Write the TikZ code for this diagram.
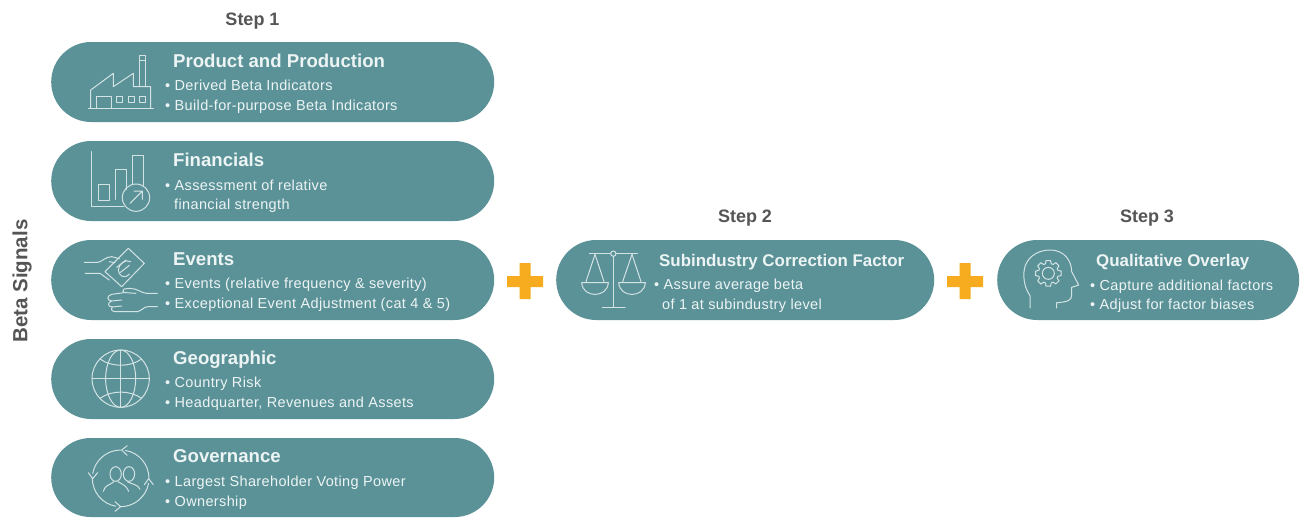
\documentclass[tikz,border=0pt]{standalone}
\usepackage{fontspec}
\setmainfont{Liberation Sans}
\newfontfamily\bulfont[LetterSpace=2.5]{Liberation Sans}
\usetikzlibrary{shapes.misc}
\definecolor{teal}{HTML}{5B9298}
\definecolor{ink}{HTML}{EDF4F4}
\definecolor{stepgray}{HTML}{555555}
\definecolor{plusc}{HTML}{F6AC1E}
\definecolor{iconc}{HTML}{D3E3E4}
\tikzset{
  pill/.style={rounded rectangle,fill=teal,draw=none,inner sep=0pt,minimum height=80pt,anchor=west,rounded rectangle arc length=180},
  head/.style={anchor=base west,inner sep=0pt,text=ink,font=\fontsize{18.6}{20}\selectfont\bfseries},
  headb/.style={anchor=base west,inner sep=0pt,text=ink,font=\fontsize{16.9}{20}\selectfont\bfseries},
  bul/.style={anchor=base west,inner sep=0pt,text=ink,font=\fontsize{14.5}{16}\bulfont},
  steplabel/.style={anchor=base,inner sep=0pt,text=stepgray,font=\fontsize{18}{20}\selectfont\bfseries},
  icon/.style={draw=iconc,line width=1pt,line join=round,line cap=round},
  zoomed/.style={shift={#1},scale=1/3}
}
\begin{document}
\begin{tikzpicture}[x=1pt,y=-1pt]
\useasboundingbox (0,0) rectangle (1301,517);
\fill[white] (0,0) rectangle (1301,517);
% pills
\node[pill,minimum width=443pt] (p1) at (51,82) {};
\node[pill,minimum width=443pt] (p2) at (51,181) {};
\node[pill,minimum width=443pt] (p3) at (51,280) {};
\node[pill,minimum width=443pt] (p4) at (51,379) {};
\node[pill,minimum width=443pt,minimum height=79pt] (p5) at (51,477.5) {};
\node[pill,minimum width=378pt] (s2) at (556,280) {};
\node[pill,minimum width=302pt] (s3) at (997,280) {};
% labels
\node[steplabel] (l1) at (252.5,25) {Step 1};
\node[steplabel] (l2) at (745,222) {Step 2};
\node[steplabel] (l3) at (1147,222) {Step 3};
\node[anchor=center,rotate=90,inner sep=0pt,text=stepgray,font=\fontsize{20.5}{22}\selectfont\bfseries] (bs) at (22,281) {Beta Signals};
% text
\node[head] (t1) at (173,67) {Product and Production};
\node[bul] (t1a) at (165,90) {• Derived Beta Indicators};
\node[bul] (t1b) at (165,110) {• Build-for-purpose Beta Indicators};
\node[head] (t2) at (173,166) {Financials};
\node[bul] (t2a) at (165,190) {• Assessment of relative};
\node[bul] (t2b) at (174,209) {financial strength};
\node[head] (t3) at (173,265) {Events};
\node[bul] (t3a) at (165,288) {• Events (relative frequency \& severity)};
\node[bul] (t3b) at (165,308) {• Exceptional Event Adjustment (cat 4 \& 5)};
\node[head] (t4) at (173,364) {Geographic};
\node[bul] (t4a) at (165,387) {• Country Risk};
\node[bul] (t4b) at (165,407) {• Headquarter, Revenues and Assets};
\node[head] (t5) at (173,462) {Governance};
\node[bul] (t5a) at (165,486) {• Largest Shareholder Voting Power};
\node[bul] (t5b) at (165,506) {• Ownership};
\node[headb] (t6) at (659,266) {Subindustry Correction Factor};
\node[bul] (t6a) at (654,289) {• Assure average beta};
\node[bul] (t6b) at (662,309) {of 1 at subindustry level};
\node[headb] (t7) at (1096,266) {Qualitative Overlay};
\node[bul] (t7a) at (1090,290) {• Capture additional factors};
\node[bul] (t7b) at (1090,309) {• Adjust for factor biases};
% plus signs
\fill[plusc] (507,276) rectangle (543,287) (519.5,263) rectangle (530.5,299);
\fill[plusc] (947,276) rectangle (983,287) (959.5,263) rectangle (970.5,299);
% factory
\begin{scope}[zoomed={(50,30)}]
\draw[icon] (115,235)--(310,235);
\draw[icon] (122,235)--(122,180)--(190,130)--(190,170)--(250,130)--(250,170)--(302,170)--(302,235);
\draw[icon] (268,170)--(268,75)--(287,75)--(287,170) (268,92)--(287,92);
\draw[icon] (140,235)--(140,200)--(183,200)--(183,235);
\draw[icon] (200,200) rectangle (218,216) (234,200) rectangle (252,216) (268,200) rectangle (286,216);
% chart
\draw[icon] (125,365)--(125,530)--(222,530);
\draw[icon] (146,462) rectangle (178,510);
\draw[icon] (197,508)--(197,418)--(228,418)--(228,478);
\draw[icon] (248,462)--(248,375)--(280,375)--(280,466);
\draw[icon] (258,503) circle[radius=41];
\draw[icon] (240,520)--(277,483) (252,483)--(277,483)--(277,508);
\end{scope}
% hands and banknote
\begin{scope}[zoomed={(50,230)}]
\draw[icon] (235,55)--(283,100)--(215,170)--(165,125)--cycle;
\draw[icon] (242,95) .. controls (225,85) and (205,105) .. (205,120) .. controls (205,135) and (222,150) .. (238,132);
\draw[icon] (200,112)--(228,90) (210,128)--(238,106);
\draw[icon] (103,97)--(143,97) .. controls (155,97) and (165,80) .. (185,80)--(208,86);
\draw[icon] (178,95)--(195,98);
\draw[icon] (105,130)--(150,130)--(178,150);
\draw[icon] (322,190)--(290,190) .. controls (275,190) and (262,175) .. (240,175)--(222,177) .. controls (215,180) and (218,188) .. (228,188)--(258,190);
\draw[icon] (222,188)--(185,193) .. controls (170,197) and (170,212) .. (185,213)--(215,210);
\draw[icon] (185,213) .. controls (172,218) and (172,230) .. (187,231)--(215,228);
\draw[icon] (187,231) .. controls (180,240) and (188,245) .. (198,245)--(262,245) .. controls (275,243) and (280,230) .. (295,230)--(322,230);
\end{scope}
% globe
\begin{scope}[zoomed={(50,330)}]
\draw[icon] (212,146) circle[radius=86];
\draw[icon] (212,146) ellipse[x radius=45,y radius=86];
\draw[icon] (212,60)--(212,232) (126,146)--(298,146);
\draw[icon] (150,87) .. controls (185,112) and (240,112) .. (275,87);
\draw[icon] (150,205) .. controls (185,180) and (240,180) .. (275,205);
% governance
\foreach \a in {270,180,90,0}{
  \draw[icon] (212,445)++(\a:85) arc[start angle=\a,end angle=\a-80,radius=85];
}
\draw[icon] (232,347)--(215,360)--(232,376);
\draw[icon] (115,428)--(128,446)--(143,428);
\draw[icon] (195,515)--(212,530)--(195,544);
\draw[icon] (283,464)--(296,446)--(310,464);
\draw[icon] (197,432) ellipse[x radius=17,y radius=22];
\draw[icon] (237,432) ellipse[x radius=17,y radius=22];
\draw[icon] (160,484) .. controls (164,465) and (180,465) .. (192,455);
\draw[icon] (204,455) .. controls (216,463) and (230,466) .. (236,484);
\draw[icon] (232,455) .. controls (244,463) and (264,462) .. (270,478);
\end{scope}
% scales
\begin{scope}[zoomed={(500,200)}]
\draw[icon] (340,169)--(340,322) (307,322)--(375,322);
\draw[icon] (268,161)--(332,161) (348,161)--(412,161);
\draw[icon] (340,161) circle[radius=8];
\draw[icon] (258,245)--(285,163)--(312,245);
\draw[icon] (368,245)--(396,163)--(423,245);
\draw[icon] (245,248)--(325,248) .. controls (322,295) and (248,295) .. (245,248);
\draw[icon] (356,248)--(436,248) .. controls (433,295) and (359,295) .. (356,248);
\end{scope}
% head with gear
\begin{scope}[zoomed={(930,200)}]
\draw[icon] (300,324)--(300,287) .. controls (285,265) and (280,240) .. (282,215) .. controls (285,175) and (320,150) .. (360,150) .. controls (405,150) and (425,185) .. (425,215)--(446,255)--(425,262)--(425,285) .. controls (425,300) and (415,306) .. (380,308)--(380,324);
\draw[icon] (355,220) circle[radius=18];
\begin{scope}[shift={(355,220)}]
\foreach \a in {0,45,...,315}{
  \draw[icon] (\a-10:39)--(\a+10:39)--(\a+17:30)--(\a+28:30)--(\a+35:39);
}
\end{scope}
\end{scope}
\end{tikzpicture}
\end{document}
